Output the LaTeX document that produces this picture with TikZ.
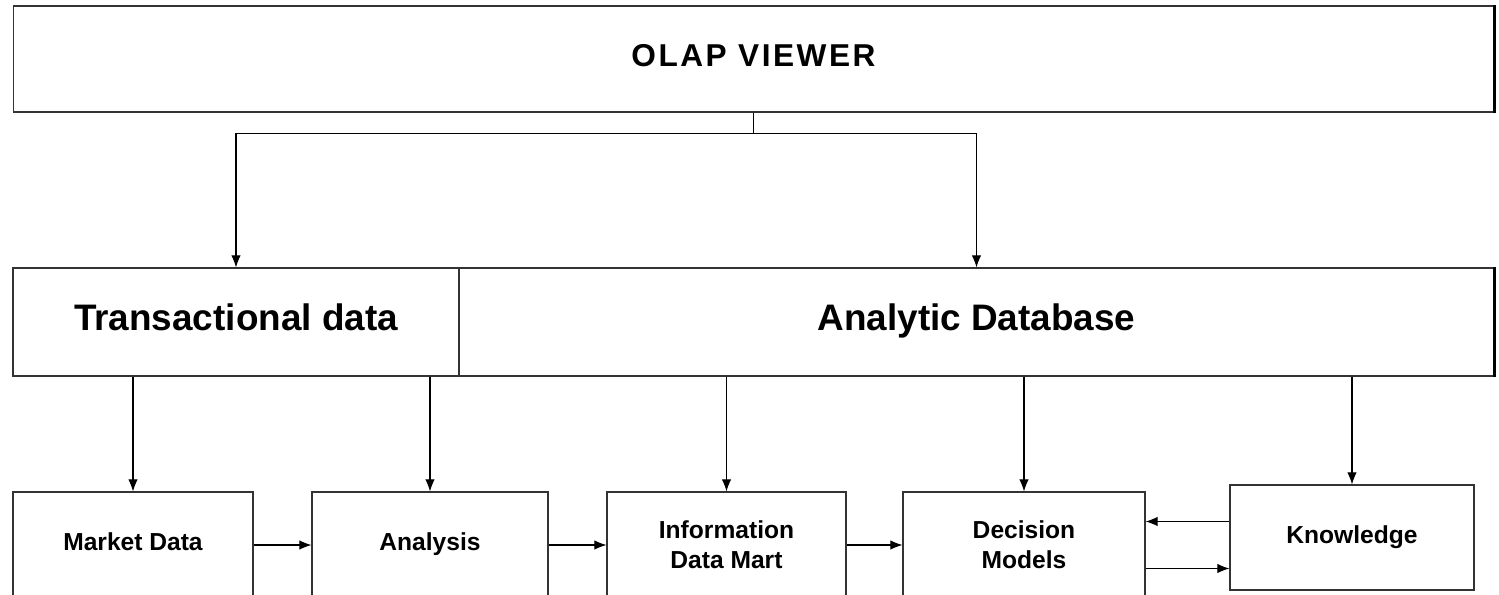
\documentclass[tikz,border=0pt]{standalone}
\usepackage{fontspec}
\setmainfont{Liberation Sans}
\usetikzlibrary{arrows.meta}

\begin{document}
\begin{tikzpicture}[x=.02cm, y=-.02cm,
    box/.style={draw=black!80, line width=.7pt, align=center, inner sep=0pt, font=\bfseries},
    arr/.style={-{Latex[length=2.4mm,width=1.9mm]}, line width=.6pt}]
  \useasboundingbox (0,0) rectangle (1499,595);
  \clip (0,0) rectangle (1499,595);

  \node[box, minimum width=29.62cm, minimum height=2.12cm,
        font=\bfseries\fontsize{18}{20}\selectfont\addfontfeature{LetterSpace=8}] (olap) at (753.5,59) {OLAP VIEWER\strut};
  \draw[line width=1.6pt] (olap.north east) -- (olap.south east);

  \node[box, minimum width=8.92cm, minimum height=2.16cm,
        font=\bfseries\fontsize{21}{24}\selectfont] (trans) at (236,322) {Transactional data\strut};
  \node[box, minimum width=20.7cm, minimum height=2.16cm,
        font=\bfseries\fontsize{21}{24}\selectfont] (analytic) at (976.5,322) {Analytic Database\strut};
  \draw[line width=1.6pt] (analytic.north east) -- (analytic.south east);

  \coordinate (split) at ([yshift=-.42cm]olap.south);
  \draw[line width=.6pt] (olap.south) -- (split);
  \draw[arr] (split) -| (trans);
  \draw[arr] (split) -| (analytic);

  \foreach \name/\x/\w/\txt in {market/133/4.8/Market Data\strut, analysis/430/4.72/Analysis\strut,
      info/726.5/4.78/{Information\\Data Mart}, decision/1024/4.84/{Decision\\Models}}
    \node[box, minimum width=\w cm, minimum height=2.12cm,
          font=\bfseries\fontsize{14}{17}\selectfont] (\name) at (\x,545) {\txt};
  \node[box, minimum width=4.88cm, minimum height=2.1cm,
        font=\bfseries\fontsize{14}{17}\selectfont] (knowledge) at (1352,537.5) {Knowledge\strut};

  \foreach \n in {market,analysis}
    \draw[arr] (\n.north |- trans.south) -- (\n);
  \foreach \n in {info,decision,knowledge}
    \draw[arr] (\n.north |- analytic.south) -- (\n);

  \draw[arr] (market) -- (analysis);
  \draw[arr] (analysis) -- (info);
  \draw[arr] (info) -- (decision);
  \coordinate (kd) at ([yshift=.47cm]decision.east);
  \coordinate (dk) at ([yshift=-.47cm]decision.east);
  \draw[arr] (knowledge.west |- kd) -- (kd);
  \draw[arr] (dk) -- (knowledge.west |- dk);
\end{tikzpicture}
\end{document}
